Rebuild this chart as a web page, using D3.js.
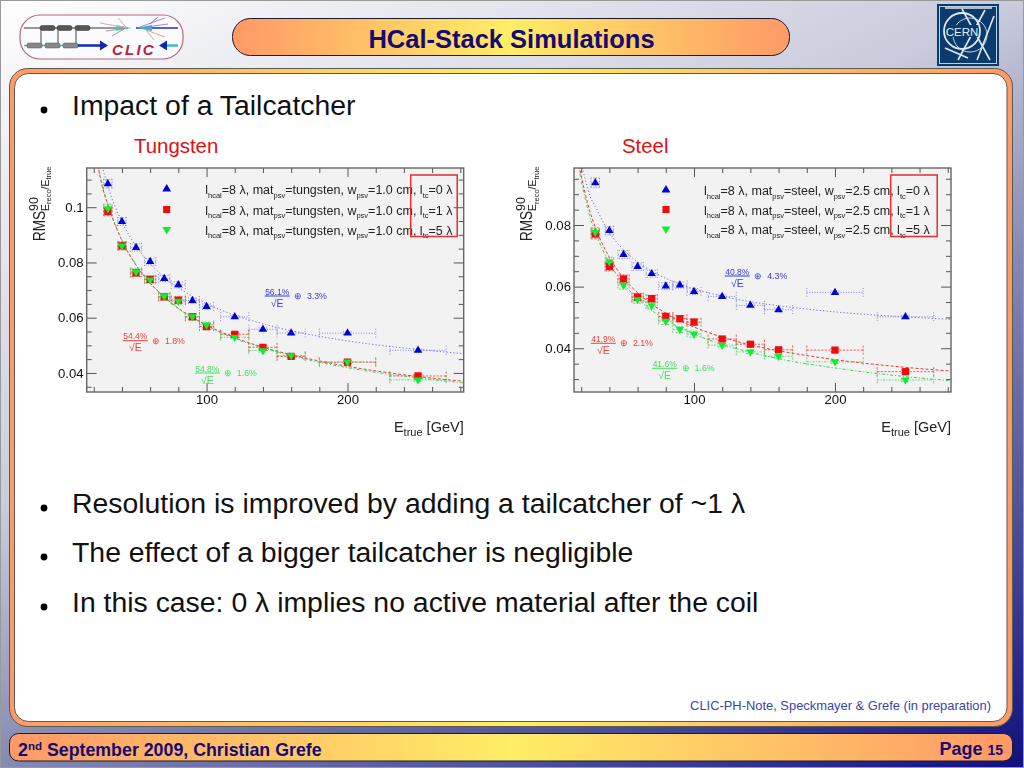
<!DOCTYPE html>
<html>
<head>
<meta charset="utf-8">
<script src="https://cdn.jsdelivr.net/npm/d3@7/dist/d3.min.js"></script>
<style>
html,body{margin:0;padding:0;background:#fff;overflow:hidden}
svg{display:block}
text{font-family:"Liberation Sans",Arial,sans-serif}
</style>
</head>
<body>
<svg id="slide" width="1024" height="768" viewBox="0 0 1024 768"></svg>
<script>
// ---------- data ----------
const energies = [30,40,50,60,70,80,90,100,120,140,160,200,250];
const energyErrors = [3,3,4,4,4,5,5,5,10,10,10,20,20];
const resolutionErrors = [0.0016,0.0014,0.0013,0.0012,0.0011,0.0011,0.001,0.001,0.0005,0.0005,0.0005,0.0005,0.0005];

const tungstenLambda0 = [0.1085,0.0948,0.0854,0.0803,0.0742,0.0719,0.0662,0.064,0.0603,0.0558,0.0544,0.0544,0.0482];
const tungstenLambda1 = [0.0985,0.086,0.0762,0.0739,0.0675,0.0664,0.0603,0.0568,0.054,0.0493,0.046,0.0439,0.0389];
const tungstenLambda5 = [0.0995,0.086,0.0766,0.0737,0.0677,0.066,0.0604,0.0574,0.0529,0.0481,0.0463,0.044,0.0375];

const steelLambda0 = [0.0937,0.0782,0.0704,0.0665,0.0642,0.0602,0.0605,0.0584,0.0568,0.0539,0.0525,0.0581,0.0502];
const steelLambda1 = [0.0771,0.0665,0.0625,0.0566,0.0561,0.0503,0.0496,0.0485,0.043,0.0413,0.0395,0.0394,0.0324];
const steelLambda5 = [0.0776,0.0681,0.0605,0.0558,0.0538,0.0488,0.0461,0.0446,0.041,0.0388,0.0374,0.0356,0.0297];

const fitEnergies = [18,20,23,26,30,40,50,60,70,80,90,100,120,140,160,200,250,282];
const tungstenFit0 = [0.1365,0.1285,0.1215,0.1149,0.1076,0.0947,0.0859,0.0796,0.0747,0.0709,0.0677,0.0651,0.0609,0.0578,0.0553,0.0516,0.0485,0.047];
const tungstenFit1 = [0.1295,0.1229,0.1149,0.1076,0.1009,0.0879,0.079,0.0725,0.0675,0.0634,0.0601,0.0573,0.0528,0.0493,0.0466,0.0424,0.0387,0.037];
const tungstenFit5 = [0.1301,0.1235,0.1155,0.1082,0.1013,0.0881,0.0792,0.0726,0.0675,0.0633,0.06,0.0571,0.0525,0.0491,0.0462,0.0419,0.0382,0.0364];
const steelFit0 = [0.1052,0.1003,0.0946,0.0897,0.086,0.0775,0.072,0.068,0.065,0.0627,0.0608,0.0593,0.0569,0.0551,0.0538,0.0518,0.0502,0.0494];
const steelFit1 = [0.1009,0.0961,0.09,0.0847,0.0793,0.0695,0.0628,0.058,0.0543,0.0514,0.0489,0.0469,0.0436,0.0411,0.0392,0.0363,0.0338,0.0326];
const steelFit5 = [0.0992,0.0945,0.0882,0.0829,0.0777,0.0677,0.061,0.0561,0.0523,0.0492,0.0467,0.0446,0.0412,0.0387,0.0366,0.0336,0.0308,0.0295];

const xMajorTicks = [100,200];
const xMinorTicks = [20,40,60,80,120,140,160,180,220,240,260,280];
const tungstenMajorTicks = [0.04,0.06,0.08,0.1];
const tungstenMinorTicks = [0.035,0.045,0.05,0.055,0.065,0.07,0.075,0.085,0.09,0.095,0.105,0.11];
const steelMajorTicks = [0.04,0.06,0.08];
const steelMinorTicks = [0.03,0.035,0.045,0.05,0.055,0.065,0.07,0.075,0.085,0.09,0.095];

const tungstenLegendLabels = ["tungsten","1.0 cm"];
const steelLegendLabels = ["steel","2.5 cm"];
const tailcatcherLabels = ["0","1","5"];
const tungstenStochastic = ["56.1%","54.4%","54.8%"];
const tungstenConstant = ["3.3%","1.8%","1.6%"];
const steelStochastic = ["40.8%","41.9%","41.6%"];
const steelConstant = ["4.3%","2.1%","1.6%"];

const bulletsLower = ["Resolution is improved by adding a tailcatcher of ~1 λ","The effect of a bigger tailcatcher is negligible","In this case: 0 λ implies no active material after the coil"];

// ---------- drawing ----------
const svg = d3.select("#slide");
const defs = svg.append("defs");
const bg = defs.append("linearGradient").attr("id","bg").attr("gradientUnits","userSpaceOnUse")
  .attr("x1",0).attr("y1",0).attr("x2",512).attr("y2",1024);
[[0,"#ffffff"],[.4,"#c9cbdc"],[.6,"#8489b2"],[.8,"#4d5198"],[1,"#10107e"]].forEach(s=>bg.append("stop").attr("offset",s[0]).attr("stop-color",s[1]));
const warm = defs.append("linearGradient").attr("id","warm");
[[0,"#ff9966"],[.5,"#ffee66"],[1,"#ff9966"]].forEach(s=>warm.append("stop").attr("offset",s[0]).attr("stop-color",s[1]));
defs.append("filter").attr("id","soft").attr("x","-5%").attr("y","-5%").attr("width","110%").attr("height","110%")
  .append("feGaussianBlur").attr("stdDeviation",0.4);

svg.append("rect").attr("width",1024).attr("height",768).attr("fill","url(#bg)");
svg.append("rect").attr("x",0.5).attr("y",0.5).attr("width",1023).attr("height",767).attr("fill","none").attr("stroke","#999");

// panels
svg.append("rect").attr("x",9.5).attr("y",68.5).attr("width",1003).attr("height",658).attr("rx",18)
  .attr("fill","url(#warm)").attr("stroke","#5a5a50").attr("stroke-width",1);
svg.append("rect").attr("x",14.5).attr("y",73.5).attr("width",992.5).attr("height",648).attr("rx",14)
  .attr("fill","#fff").attr("stroke","#5a5a50").attr("stroke-width",1);
svg.append("rect").attr("x",232.5).attr("y",18.5).attr("width",557).attr("height",37).attr("rx",18)
  .attr("fill","url(#warm)").attr("stroke","#1a1a30").attr("stroke-width",1);
svg.append("rect").attr("x",9.5).attr("y",733.5).attr("width",1003).attr("height",27.5).attr("rx",9)
  .attr("fill","url(#warm)").attr("stroke","#1a1a30").attr("stroke-width",1);

const NAVY = "#140a70";
svg.append("text").attr("x",511.5).attr("y",48).attr("text-anchor","middle")
  .attr("font-size",25.5).attr("font-weight","bold").attr("fill",NAVY).text("HCal-Stack Simulations");

const foot = svg.append("text").attr("x",18).attr("y",756).attr("font-size",17.8).attr("font-weight","bold").attr("fill",NAVY);
foot.append("tspan").text("2");
foot.append("tspan").attr("font-size",11.5).attr("dy",-6).text("nd");
foot.append("tspan").attr("dy",6).text(" September 2009, Christian Grefe");
const pg = svg.append("text").attr("x",1003).attr("y",755).attr("text-anchor","end").attr("font-size",18).attr("font-weight","bold").attr("fill",NAVY);
pg.append("tspan").text("Page ");
pg.append("tspan").attr("font-size",14).text("15");
svg.append("text").attr("x",991).attr("y",710).attr("text-anchor","end").attr("font-size",12.9).attr("fill","#3a45a8")
  .text("CLIC-PH-Note, Speckmayer & Grefe (in preparation)");

// bullets
function bullet(y,t){
  svg.append("circle").attr("cx",44).attr("cy",y-5).attr("r",3.4).attr("fill","#000");
  svg.append("text").attr("x",72).attr("y",y).attr("font-size",28.4).attr("fill","#111").text(t);
}
bullet(115,"Impact of a Tailcatcher");
[513,562,612].forEach((y,i)=>bullet(y,bulletsLower[i]));
svg.append("text").attr("x",134).attr("y",153).attr("font-size",20.4).attr("fill","#e01010").text("Tungsten");
svg.append("text").attr("x",622).attr("y",153).attr("font-size",20.4).attr("fill","#e01010").text("Steel");

// ---------- plots ----------
const SER = [
  {c:"#0000d0", line:"#6a6ae4", dash:"1.2 2.2", sym:d3.symbolTriangle, size:30, rot:0},
  {c:"#ee0808", line:"#ee3838", dash:"3 2", sym:d3.symbolSquare, size:52, rot:0},
  {c:"#10ee30", line:"#38d058", dash:"3 2 1 2", sym:d3.symbolTriangle, size:30, rot:180}
];

function plot(cfg){
  const W=377, H=224;
  const g = svg.append("g").attr("transform",`translate(${cfg.x},168)`).attr("filter","url(#soft)");
  const x = d3.scaleLinear().domain(cfg.xDomain).range([0,W]);
  const y = d3.scaleLinear().domain(cfg.yDomain).range([H,0]);
  g.append("rect").attr("width",W).attr("height",H).attr("fill","#f2f2f2");
  const clip = cfg.id+"c";
  defs.append("clipPath").attr("id",clip).append("rect").attr("width",W).attr("height",H);

  const axisStyle = a=>{ a.select(".domain").remove(); a.selectAll("line").attr("stroke","#555").attr("stroke-width",1); a.selectAll("text").attr("font-size",13.2).attr("fill","#111").attr("font-family",'"Liberation Sans",Arial,sans-serif'); };
  g.append("g").attr("transform",`translate(0,${H})`).call(d3.axisBottom(x).tickValues(xMinorTicks).tickSize(-5).tickFormat("")).call(axisStyle);
  g.append("g").attr("transform",`translate(0,${H})`).call(d3.axisBottom(x).tickValues(xMajorTicks).tickSize(-9).tickPadding(3).tickFormat(d3.format("d"))).call(axisStyle);
  g.append("g").call(d3.axisTop(x).tickValues(xMinorTicks).tickSize(-5).tickFormat("")).call(axisStyle);
  g.append("g").call(d3.axisTop(x).tickValues(xMajorTicks).tickSize(-9).tickFormat("")).call(axisStyle);
  g.append("g").call(d3.axisLeft(y).tickValues(cfg.yMinor).tickSize(-5).tickFormat("")).call(axisStyle);
  g.append("g").call(d3.axisLeft(y).tickValues(cfg.yMajor).tickSize(-10).tickPadding(3).tickFormat(d3.format(".2~f"))).call(axisStyle);
  g.append("g").attr("transform",`translate(${W},0)`).call(d3.axisRight(y).tickValues(cfg.yMinor).tickSize(-5).tickFormat("")).call(axisStyle);
  g.append("g").attr("transform",`translate(${W},0)`).call(d3.axisRight(y).tickValues(cfg.yMajor).tickSize(-10).tickFormat("")).call(axisStyle);

  const body = g.append("g").attr("clip-path",`url(#${clip})`);
  const line = d3.line().x(d=>x(d[0])).y(d=>y(d[1])).curve(d3.curveMonotoneX);
  cfg.series.forEach((vals,i)=>{
    const s=SER[i];
    const sg = body.append("g");
    sg.append("path").attr("d",line(fitEnergies.map((e,k)=>[e,cfg.fits[i][k]])))
      .attr("fill","none").attr("stroke",s.line).attr("stroke-width",1).attr("stroke-dasharray",s.dash);
    const err = sg.append("g").attr("stroke",s.line).attr("stroke-width",0.8).attr("stroke-dasharray",s.dash==="1.2 2.2"?"1 1.6":s.dash==="3 2"?"2.2 1.4":"2 1.4 1 1.4");
    energies.forEach((e,k)=>{
      const px=x(e), py=y(vals[k]), l=x(e-energyErrors[k]), r=x(e+energyErrors[k]);
      const t=y(vals[k]+resolutionErrors[k]), b=y(vals[k]-resolutionErrors[k]);
      const seg=(a,c,d,f)=>err.append("line").attr("x1",a).attr("y1",c).attr("x2",d).attr("y2",f);
      seg(l,py,r,py); seg(l,py-4.5,l,py+4.5); seg(r,py-4.5,r,py+4.5);
      seg(px,t,px,b); seg(px-4.5,t,px+4.5,t); seg(px-4.5,b,px+4.5,b);
    });
  });
  cfg.series.forEach((vals,i)=>{
    const s=SER[i];
    const sym=d3.symbol().type(s.sym).size(s.size);
    body.append("g").selectAll("path").data(energies).join("path")
      .attr("d",sym()).attr("fill",s.c)
      .attr("transform",(e,k)=>`translate(${x(e)},${y(vals[k])}) rotate(${s.rot})`);
  });

  // frame
  g.append("rect").attr("width",W).attr("height",H).attr("fill","none").attr("stroke","#666").attr("stroke-width",1.4);

  // legend
  cfg.legendY.forEach((ly,i)=>{
    const s=SER[i];
    g.append("path").attr("d",d3.symbol().type(s.sym).size(i===1?50:34)())
      .attr("fill",s.c).attr("transform",`translate(${cfg.legendMarkX},${ly-168}) rotate(${s.rot})`);
    const t=g.append("text").attr("x",cfg.legendTextX).attr("y",ly-168+5).attr("font-size",cfg.legendFont).attr("fill","#222");
    t.append("tspan").text("l");
    t.append("tspan").attr("font-size",7.5).attr("dy",3.5).text("hcal");
    t.append("tspan").attr("dy",-3.5).text("=8 λ, mat");
    t.append("tspan").attr("font-size",7.5).attr("dy",3.5).text("psv");
    t.append("tspan").attr("dy",-3.5).text("="+cfg.legend[0]+", w");
    t.append("tspan").attr("font-size",7.5).attr("dy",3.5).text("psv");
    t.append("tspan").attr("dy",-3.5).text("="+cfg.legend[1]+", l");
    t.append("tspan").attr("font-size",7.5).attr("dy",3.5).text("tc");
    t.append("tspan").attr("dy",-3.5).text("="+tailcatcherLabels[i]+" λ");
  });
  g.append("rect").attr("x",cfg.boxX).attr("y",7).attr("width",46.5).attr("height",61.5)
    .attr("fill","none").attr("stroke","#e03030").attr("stroke-width",1.5);

  // fit annotations
  const annoColors=["#3a3ae0","#f04040","#40e060"];
  cfg.anno.forEach((a,i)=>{
    const c=annoColors[i], ax=a[0]-cfg.x, ay=a[1]-168;
    g.append("text").attr("x",ax).attr("y",ay-1.5).attr("text-anchor","middle").attr("font-size",8.5).attr("fill",c).text(cfg.stoch[i]);
    g.append("line").attr("x1",ax-12.5).attr("x2",ax+12.5).attr("y1",ay).attr("y2",ay).attr("stroke",c).attr("stroke-width",1);
    g.append("text").attr("x",ax).attr("y",ay+10.5).attr("text-anchor","middle").attr("font-size",10.5).attr("fill",c).text("√E");
    g.append("text").attr("x",a[2]-cfg.x).attr("y",ay+3).attr("font-size",8.8).attr("fill",c).attr("xml:space","preserve").text("⊕  "+cfg.cons[i]);
  });

  // axis titles
  const xt=g.append("text").attr("x",W).attr("y",263.5).attr("text-anchor","end").attr("font-size",14.5).attr("fill","#222");
  xt.append("tspan").text("E");
  xt.append("tspan").attr("font-size",11).attr("dy",4).text("true");
  xt.append("tspan").attr("dy",-4).text(" [GeV]");

  const yt=g.append("g").attr("transform",`translate(-42,73) rotate(-90)`);
  yt.append("text").attr("font-size",16).attr("fill","#222").attr("textLength",30).attr("lengthAdjust","spacingAndGlyphs").text("RMS");
  yt.append("text").attr("x",30).attr("y",-7).attr("font-size",12.5).attr("fill","#222").text("90");
  const yb=yt.append("text").attr("x",30).attr("y",4).attr("font-size",10.5).attr("fill","#222");
  yb.append("tspan").text("E");
  yb.append("tspan").attr("font-size",7.5).attr("dy",2.5).text("reco");
  yb.append("tspan").attr("dy",-2.5).text("/E");
  yb.append("tspan").attr("font-size",7.5).attr("dy",2.5).text("true");
}

plot({id:"w",x:86.7,xDomain:[15,282.4],yDomain:[0.0331,0.1142],
  yMajor:tungstenMajorTicks,yMinor:tungstenMinorTicks,
  series:[tungstenLambda0,tungstenLambda1,tungstenLambda5],
  fits:[tungstenFit0,tungstenFit1,tungstenFit5],
  legendY:[189,209.5,229.5],legendMarkX:80,legendTextX:118.5,legendFont:12.5,legend:tungstenLegendLabels,boxX:324,
  anno:[[277.2,296,294],[135.3,340.7,152],[207.3,373,224]],stoch:tungstenStochastic,cons:tungstenConstant});

plot({id:"s",x:574,xDomain:[14.9,282.3],yDomain:[0.0258,0.0985],
  yMajor:steelMajorTicks,yMinor:steelMinorTicks,
  series:[steelLambda0,steelLambda1,steelLambda5],
  fits:[steelFit0,steelFit1,steelFit5],
  legendY:[190,209.5,229],legendMarkX:92,legendTextX:130,legendFont:12.5,legend:steelLegendLabels,boxX:316.7,
  anno:[[737.3,276,754.3],[603.3,343.3,620],[664.7,368.3,681.7]],stoch:steelStochastic,cons:steelConstant});

// ---------- CLIC logo ----------
const L=svg.append("g");
L.append("rect").attr("x",20).attr("y",15).attr("width",163).attr("height",44).attr("rx",20).attr("fill","#fbfbff").attr("stroke","#b06a78").attr("stroke-width",1.2);
L.append("line").attr("x1",24).attr("x2",125).attr("y1",28).attr("y2",28).attr("stroke","#777").attr("stroke-width",1.5);
L.append("line").attr("x1",136).attr("x2",178).attr("y1",28).attr("y2",28).attr("stroke","#2030b0").attr("stroke-width",1.5);
[40,57,75].forEach(px=>{
  L.append("rect").attr("x",px).attr("y",25.5).attr("width",15).attr("height",5).attr("rx",2).attr("fill","#555").attr("stroke","#333").attr("stroke-width",.5);
  L.append("line").attr("x1",px+1).attr("x2",px+1).attr("y1",30).attr("y2",44).attr("stroke","#777").attr("stroke-width",1.4);
});
L.append("line").attr("x1",24).attr("x2",80).attr("y1",45.5).attr("y2",45.5).attr("stroke","#40b8c0").attr("stroke-width",1.5);
[27,45,63].forEach(px=>L.append("rect").attr("x",px).attr("y",43).attr("width",15).attr("height",5).attr("rx",1.5).attr("fill","#888").attr("stroke","#555").attr("stroke-width",.5));
L.append("line").attr("x1",78).attr("x2",102).attr("y1",45.5).attr("y2",45.5).attr("stroke","#1028b0").attr("stroke-width",2.5);
L.append("path").attr("d","M100,40.5 L108,45.5 L100,50.5 Z").attr("fill","#1028b0");
L.append("line").attr("x1",165).attr("x2",178).attr("y1",45.5).attr("y2",45.5).attr("stroke","#40b8d0").attr("stroke-width",2.5);
L.append("path").attr("d","M167,40.5 L159,45.5 L167,50.5 Z").attr("fill","#1028b0");
L.append("text").attr("x",112).attr("y",55).attr("font-family",'"Liberation Serif",serif').attr("font-style","italic").attr("font-weight","bold")
  .attr("font-size",15).attr("letter-spacing",2.2).attr("fill","#c02038").text("CLIC");
L.append("path").attr("d","M116,25 L132,28 L116,31 Z").attr("fill","#50c8a0").attr("opacity",.8);
L.append("path").attr("d","M152,25 L136,28 L152,31 Z").attr("fill","#30b8d0");
[["M100,23 L128,28","#c8a890"],["M106,31 L128,28","#9888c8"],["M112,36 L124,29","#9888c8"],["M118,18 L126,27","#c8a890"],
 ["M140,27 L165,18","#9080d0"],["M140,28 L168,24","#9080d0"],["M146,30 L165,37","#d8a070"],["M146,30 L154,40","#d8a070"],["M150,24 L158,17","#7070c8"]]
 .forEach(d=>L.append("path").attr("d",d[0]).attr("stroke",d[1]).attr("stroke-width",.9).attr("fill","none"));

// ---------- CERN logo ----------
const C=svg.append("g");
C.append("rect").attr("x",937).attr("y",4).attr("width",62).attr("height",62).attr("fill","#0b3a6c");
C.append("rect").attr("x",939.5).attr("y",6.5).attr("width",57).attr("height",57).attr("fill","none").attr("stroke","#bcd0e4").attr("stroke-width",1);
C.append("circle").attr("cx",962).attr("cy",31).attr("r",18).attr("fill","none").attr("stroke","#dfe9f2").attr("stroke-width",1.8);
C.append("circle").attr("cx",970).attr("cy",35).attr("r",17).attr("fill","none").attr("stroke","#c6d6e6").attr("stroke-width",1);
C.append("path").attr("d","M945,8 L992,8 M962,9 L990,60 M994,16 L977,60 M945,48 L968,58 M958,60 L985,10").attr("stroke","#dfe9f2").attr("stroke-width",1.6).attr("fill","none");
C.append("rect").attr("x",946).attr("y",25).attr("width",32).attr("height",12).attr("fill","#0b3a6c");
C.append("text").attr("x",962).attr("y",35.5).attr("text-anchor","middle").attr("font-size",11.5).attr("fill","#e8f0f6").text("CERN");
</script>
</body>
</html>
